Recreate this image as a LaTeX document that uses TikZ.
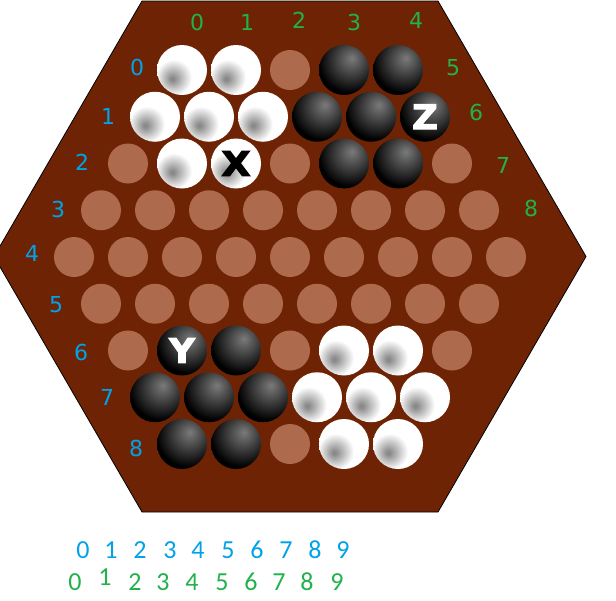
\documentclass[tikz,border=0pt]{standalone}
\usepackage{fontspec}
\newfontfamily\lblfont{DejaVu Sans}
\newfontfamily\btmfont{Carlito}
\newfontfamily\markfont{DejaVu Sans}[BoldFeatures={FakeBold=3}]
\definecolor{board}{RGB}{110,36,4}
\definecolor{holec}{RGB}{173,106,76}
\definecolor{lblblue}{RGB}{0,162,232}
\definecolor{lblgreen}{RGB}{34,177,76}
\pgfdeclareradialshading{wshade}{\pgfpoint{-10bp}{-9bp}}{color(0bp)=(black!47); color(2bp)=(black!45); color(18bp)=(white); color(100bp)=(white)}
\pgfdeclareradialshading{bshade}{\pgfpoint{8bp}{12bp}}{color(0bp)=(black!52); color(2bp)=(black!55); color(31bp)=(black); color(100bp)=(black)}
\begin{document}
\begin{tikzpicture}[x=1pt,y=-1pt,
  cellh/.style={circle,fill=holec,minimum size=40pt,inner sep=0pt},
  cellw/.style={circle,shading=wshade,minimum size=50pt,inner sep=0pt},
  cellb/.style={circle,shading=bshade,minimum size=50pt,inner sep=0pt},
  rowlbl/.style={text=lblblue,font=\lblfont\fontsize{22}{22}\selectfont,inner sep=0pt},
  collbl/.style={text=lblgreen,font=\lblfont\fontsize{22}{22}\selectfont,inner sep=0pt},
  btmblue/.style={text=lblblue,font=\btmfont\fontsize{26}{26}\selectfont,inner sep=0pt},
  btmgreen/.style={text=lblgreen,font=\btmfont\fontsize{26}{26}\selectfont,inner sep=0pt},
  letterb/.style={text=black,font=\markfont\bfseries\fontsize{34}{34}\selectfont,inner sep=0pt,xscale=1.12},
  letterw/.style={text=white,font=\markfont\bfseries\fontsize{34}{34}\selectfont,inner sep=0pt,xscale=1.05}]
\useasboundingbox (0,0) rectangle (616,600);
\clip (0,0) rectangle (616,600);
\draw[fill=board,line width=0.8pt] (142,1) -- (438,1) -- (586,256.5) -- (438,512) -- (142,512) -- (-6,256.5) -- cycle;
\foreach \r/\cells in {0/{w,w,h,b,b},1/{w,w,w,b,b,b},2/{h,w,w,h,b,b,h},3/{h,h,h,h,h,h,h,h},4/{h,h,h,h,h,h,h,h,h},5/{h,h,h,h,h,h,h,h},6/{h,b,b,h,w,w,h},7/{b,b,b,w,w,w},8/{b,b,h,w,w}}{
  \pgfmathsetmacro\sx{290-(8-abs(\r-4))*27}
  \foreach \t [count=\c from 0] in \cells {
    \node[cell\t] (c-\r-\c) at ({\sx+\c*54},{70+\r*46.75}) {};
  }
}
\node[letterb] (mx) at (c-2-2) {X};
\node[letterw] (my) at (c-6-1) {Y};
\node[letterw] (mz) at (c-1-5) {Z};
\foreach \d/\x/\y in {0/137/67,1/108/116,2/82/162,3/58/209,4/32/253,5/56/305,6/81/352,7/107/397,8/136/448}{
  \node[rowlbl] (rl\d) at (\x,\y) {\d};
}
\foreach \d/\x/\y in {0/197/22,1/247/22,2/299/20,3/354/22,4/416/20,5/453/68,6/476/112,7/503/165,8/531/208}{
  \node[collbl] (cl\d) at (\x,\y) {\d};
}
\foreach \d/\x in {0/83,1/111,2/140,3/170,4/198,5/228,6/257,7/286,8/315,9/343}{
  \node[btmblue] (bb\d) at (\x,550) {\d};
}
\foreach \d/\x/\y in {0/75/582,1/105/577,2/135/582,3/163/582,4/192/582,5/222/582,6/251/582,7/279/582,8/307/582,9/337/582}{
  \node[btmgreen] (bg\d) at (\x,\y) {\d};
}
\end{tikzpicture}
\end{document}
